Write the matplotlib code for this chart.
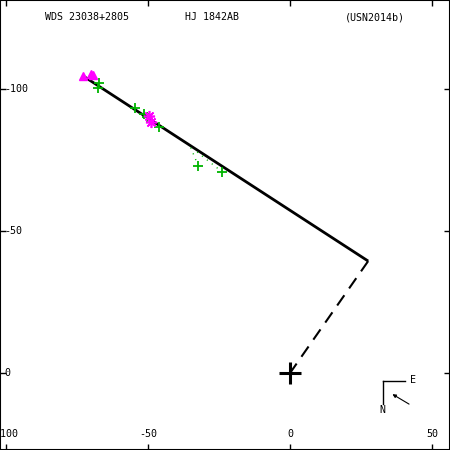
import matplotlib
matplotlib.use('Agg')
import matplotlib.pyplot as plt

plt.rcParams['axes.unicode_minus'] = False

# titles
title_left = 'WDS 23038+2805'
title_mid = 'HJ 1842AB'
title_right = '(USN2014b)'

# orbit (nearly edge-on, appears as a line)
orbit_x = [-72.9, 27.5]
orbit_y = [-104.6, -39.4]

# line of nodes / periastron link to primary
node_x = [27.5, 0.0]
node_y = [-39.4, 0.0]

# micrometer / visual observations (green plus)
obs_x = [-67.3, -67.7, -54.6, -51.4, -50.2, -46.0, -32.3, -23.8]
obs_y = [-102.2, -100.2, -93.2, -91.1, -90.0, -86.5, -72.9, -70.7]

# residual links: observed -> predicted
res_obs_x = [-32.3, -23.8]
res_obs_y = [-72.9, -70.7]
res_pred_x = [-35.2, -32.7]
res_pred_y = [-79.9, -77.8]

# first measures (magenta triangles)
first_x = [-73.0, -69.9, -69.3]
first_y = [-104.6, -105.4, -105.0]

# speckle / interferometry (magenta asterisks)
speckle_x = [-49.5, -49.0]
speckle_y = [-90.6, -88.5]

xticks = [-100, -50, 0, 50]
yticks = [-100, -50, 0]

font = 'DejaVu Sans Mono'
fs = 7.2

fig = plt.figure(figsize=(4.5, 4.5), dpi=100)
ax = fig.add_axes([0, 0, 1, 1])
ax.set_xlim(-102.1, 56.3)
ax.set_ylim(27.1, -131.3)

ax.plot(orbit_x, orbit_y, color='black', lw=2, solid_capstyle='butt')
ax.plot(node_x, node_y, color='black', lw=1.5, linestyle=(0, (6, 4)))

for ox, oy, px, py in zip(res_obs_x, res_obs_y, res_pred_x, res_pred_y):
    ax.plot([ox, px], [oy, py], color='#00b400', lw=1.0, linestyle=(0, (0.8, 3.7)))

ax.plot(obs_x, obs_y, linestyle='none', marker='+', ms=7, mew=1.3, color='#00b400')
ax.plot(first_x, first_y, linestyle='none', marker='^', ms=5.5, color='#ff00ff')
ax.plot(speckle_x, speckle_y, linestyle='none', marker=(8, 2, 0), ms=8, mew=1.2,
        color='#ff00ff')

# primary star
ax.plot([0], [0], linestyle='none', marker='+', ms=16, mew=2.2, color='black')

# ticks
ax.set_xticks(xticks)
ax.set_yticks(yticks)
ax.set_xticklabels([])
ax.set_yticklabels([])
ax.tick_params(direction='in', length=4, width=1, top=True, right=True,
               colors='black')
for s in ax.spines.values():
    s.set_linewidth(1.5)

for v in xticks:
    ax.text(v, 0.036, str(v), transform=ax.get_xaxis_transform(), ha='center',
            va='center', family=font, fontsize=fs)
for v in yticks:
    ax.text(0.009, v, str(v), transform=ax.get_yaxis_transform(), ha='left',
            va='center', family=font, fontsize=fs)

ax.text(0.1, 0.962, title_left, transform=ax.transAxes, ha='left', va='center',
        family=font, fontsize=fs)
ax.text(0.411, 0.962, title_mid, transform=ax.transAxes, ha='left', va='center',
        family=font, fontsize=fs)
ax.text(0.767, 0.962, title_right, transform=ax.transAxes, ha='left', va='center',
        family=font, fontsize=fs)

# compass
ax.plot([0.851, 0.9], [0.153, 0.153], transform=ax.transAxes, color='black', lw=1)
ax.plot([0.851, 0.851], [0.153, 0.102], transform=ax.transAxes, color='black', lw=1)
ax.text(0.918, 0.156, 'E', transform=ax.transAxes, ha='center', va='center',
        family=font, fontsize=fs)
ax.text(0.849, 0.088, 'N', transform=ax.transAxes, ha='center', va='center',
        family=font, fontsize=fs)
ax.annotate('', xy=(0.872, 0.124), xytext=(0.909, 0.102), xycoords='axes fraction',
            arrowprops=dict(arrowstyle='-|>', color='black', lw=0.8,
                            mutation_scale=5, shrinkA=0, shrinkB=0))

fig.savefig('out.png', dpi=100)
